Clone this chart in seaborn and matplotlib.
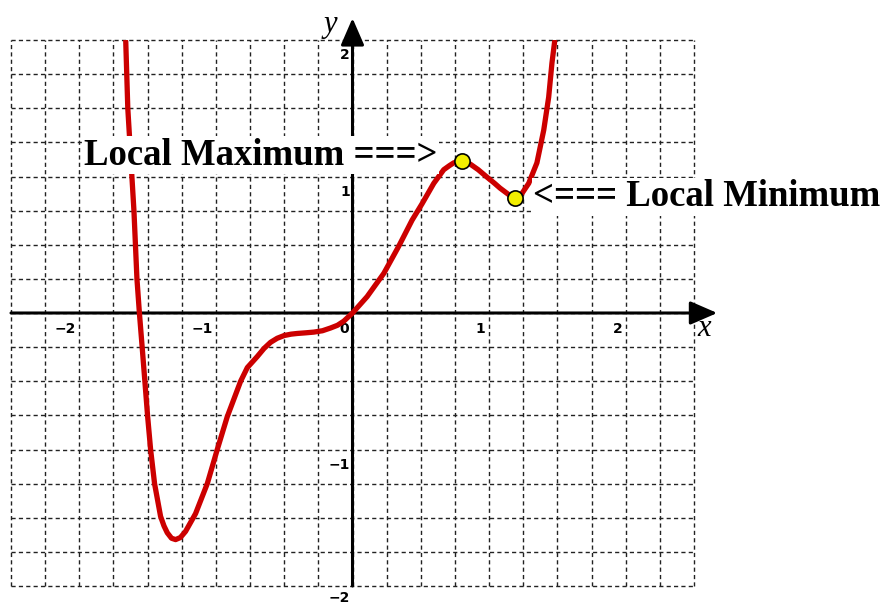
import matplotlib
matplotlib.use("Agg")
import matplotlib.pyplot as plt
import seaborn as sns
import numpy as np
import pandas as pd

# points (x, y)
curve_x = [-1.66, -1.645, -1.60, -1.578, -1.56, -1.539, -1.52, -1.50, -1.478,
           -1.449, -1.405, -1.38, -1.356, -1.325, -1.295, -1.26, -1.222,
           -1.149, -1.063, -0.99, -0.917, -0.819, -0.77, -0.698, -0.648,
           -0.60, -0.551, -0.50, -0.45, -0.405, -0.34, -0.283, -0.22, -0.161,
           -0.11, -0.064, 0.0, 0.107, 0.229, 0.339, 0.436, 0.509, 0.595, 0.668,
           0.71, 0.741, 0.77, 0.80, 0.835, 0.863, 0.92, 0.985, 1.04, 1.08,
           1.14, 1.19, 1.24, 1.29, 1.35, 1.40, 1.436, 1.46, 1.48]
curve_y = [1.99, 1.50, 0.75, 0.25, 0.0, -0.26, -0.50, -0.755, -1.00,
           -1.25, -1.49, -1.56, -1.61, -1.65, -1.66, -1.645, -1.60,
           -1.47, -1.25, -1.00, -0.76, -0.50, -0.40, -0.32, -0.26,
           -0.215, -0.185, -0.165, -0.155, -0.15, -0.145, -0.14, -0.13, -0.11,
           -0.09, -0.06, 0.0, 0.12, 0.29, 0.49, 0.68, 0.80, 0.95, 1.05,
           1.08, 1.10, 1.108, 1.11, 1.105, 1.09, 1.05, 0.995, 0.95, 0.915,
           0.87, 0.845, 0.875, 0.95, 1.10, 1.34, 1.58, 1.83, 1.99]

# local extrema markers
extrema_x = [0.80, 1.19]
extrema_y = [1.11, 0.845]
extrema_text = ["Local Maximum ===>", "<=== Local Minimum"]

x_tick_vals = [-2, -1, 0, 1, 2]
y_tick_vals = [2, 1, -1, -2]

sns.set_theme(style="white")
plt.rcParams['font.family'] = ['DejaVu Sans']
plt.rcParams['text.color'] = 'black'

fig = plt.figure(figsize=(8.9, 6.06), dpi=100)
ax = fig.add_axes([11 / 890, 1 - 586 / 606, 683 / 890, 546 / 606])

ax.set_xlim(-2.5, 2.5)
ax.set_ylim(-2, 2)
ax.set_xticks(np.arange(-2.5, 2.51, 0.25))
ax.set_yticks(np.arange(-2, 2.01, 0.25))
ax.tick_params(length=0, labelbottom=False, labelleft=False)
ax.grid(True, color='#222222', linestyle=(0, (3, 2.3)), linewidth=1.0)
for ln in ax.get_xgridlines() + ax.get_ygridlines():
    ln.set_clip_on(False)
for s in ax.spines.values():
    s.set_visible(False)

# axes with arrows
arrow = dict(arrowstyle='-|>,head_length=0.83,head_width=0.36', color='black',
             lw=2.2, mutation_scale=20, shrinkA=0, shrinkB=0)
ax.annotate('', xy=(2.67, 0), xytext=(-2.5, 0), arrowprops=arrow,
            annotation_clip=False, zorder=3)
ax.annotate('', xy=(0, 2.16), xytext=(0, -2), arrowprops=arrow,
            annotation_clip=False, zorder=3)

ax.text(-0.16, 2.11, 'y', family='Liberation Serif', style='italic',
        fontsize=22, ha='center', va='center', color='black', clip_on=False)
ax.text(2.577, -0.11, 'x', family='Liberation Serif', style='italic',
        fontsize=22, ha='center', va='center', color='black', clip_on=False)

tick_font = dict(family=['Liberation Sans Narrow', 'DejaVu Sans'],
                 weight='bold', fontsize=10, color='black', clip_on=False)
for v in x_tick_vals:
    ax.text(v - 0.025, -0.065, str(v).replace('-', '\u2212'), ha='right',
            va='top', **tick_font)
for v in y_tick_vals:
    # the lowest label sits right at the bottom edge, keep it inside
    off = 0.06 if v > -2 else 0.035
    ax.text(-0.02, v - off, str(v).replace('-', '\u2212'), ha='right',
            va='top', **tick_font)

df = pd.DataFrame({'x': curve_x, 'y': curve_y})
sns.lineplot(data=df, x='x', y='y', sort=False, estimator=None,
             color='#cc0000', linewidth=3.8, ax=ax, zorder=4)
ax.set_xlabel('')
ax.set_ylabel('')

txt_kw = dict(family='Liberation Serif', weight='bold', fontsize=26.5,
              va='center', color='black', zorder=5, clip_on=False,
              bbox=dict(facecolor='white', edgecolor='none', pad=1))
ax.text(0.622, 1.157, extrema_text[0], ha='right', **txt_kw)
ax.text(1.325, 0.85, extrema_text[1], ha='left', **txt_kw)

sns.scatterplot(x=extrema_x, y=extrema_y, s=120, color='#f2ee00',
                edgecolor='black', linewidth=1.2, ax=ax, zorder=6)

fig.savefig('out.png', dpi=100)
